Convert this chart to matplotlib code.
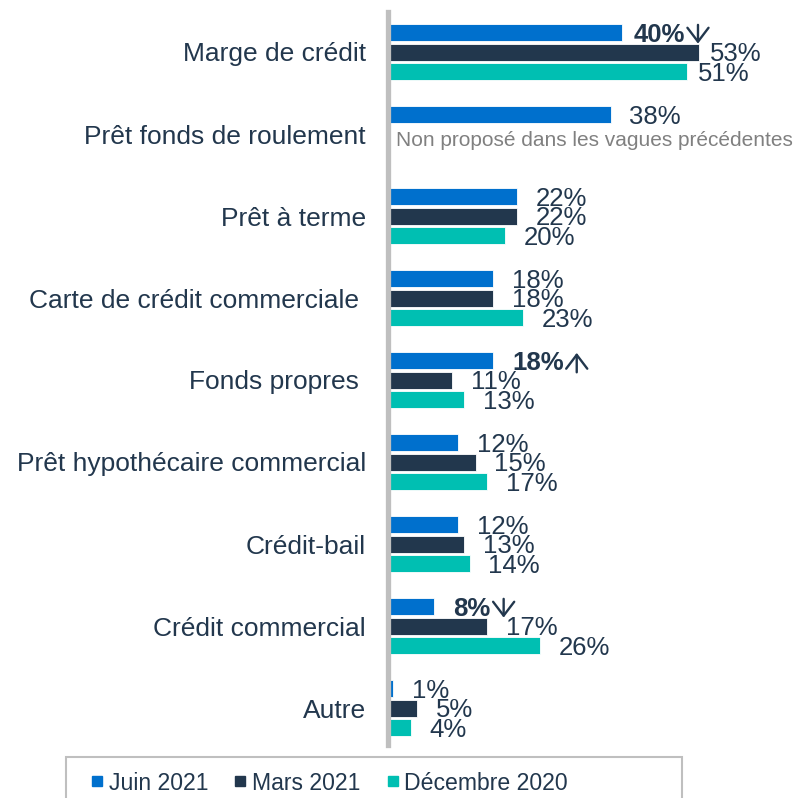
import matplotlib
matplotlib.use("Agg")
import matplotlib.pyplot as plt
from matplotlib.patches import Rectangle
from matplotlib.lines import Line2D
from matplotlib.text import OffsetFrom
import numpy as np

plt.rcParams['font.family'] = ['Liberation Sans', 'DejaVu Sans']

categories = ["Marge de crédit", "Prêt fonds de roulement", "Prêt à terme",
              "Carte de crédit commerciale ", "Fonds propres ",
              "Prêt hypothécaire commercial", "Crédit-bail",
              "Crédit commercial", "Autre"]
series_names = ["Juin 2021", "Mars 2021", "Décembre 2020"]
juin_2021 = [40, 38, 22, 18, 18, 12, 12, 8, 1]
mars_2021 = [53, None, 22, 18, 11, 15, 13, 17, 5]
dec_2020 = [51, None, 20, 23, 13, 17, 14, 26, 4]
# significance markers for Juin 2021 (None, 'up', 'down')
juin_sig = ['down', None, None, None, 'up', None, None, 'down', None]
note_text = "Non proposé dans les vagues précédentes"

colors = ["#0070CD", "#22374D", "#00BFB2"]
text_color = "#22374D"

W, H = 806, 798
fig = plt.figure(figsize=(W / 100, H / 100), dpi=100)
x0 = 387.5
px_per_pct = 5.87
ax = fig.add_axes([x0 / W, 1 - 745 / H, (W - x0) / W, 733 / H])

n = len(categories)
y = np.arange(n)
step = 19.5 / 82
bh = 17 / 82
offsets = [-step, 0, step]
series = [juin_2021, mars_2021, dec_2020]

arrow_props = dict(arrowstyle='->, head_length=0.5, head_width=0.38',
                   lw=1.7, color=text_color, shrinkA=0, shrinkB=0,
                   mutation_scale=20)

for s_idx, (vals, col) in enumerate(zip(series, colors)):
    for i, v in enumerate(vals):
        if v is None:
            continue
        yy = y[i] + offsets[s_idx]
        ax.barh(yy, v, height=bh, color=col, edgecolor='white', linewidth=0.6, zorder=2)
        sig = juin_sig[i] if s_idx == 0 else None
        pad = 8 if i == 0 else 13.5
        t = ax.annotate(f"{v}%", xy=(v, yy), xytext=(pad, -1.5), textcoords='offset points',
                        ha='left', va='center', fontsize=18.5, color=text_color,
                        fontweight='bold' if sig else 'normal', zorder=4)
        if sig:
            ref = OffsetFrom(t, (1, 0.5))
            top, bot = (7.0, -6.5) if sig == 'down' else (-7.0, 7.0)
            ax.annotate('', xy=(9.5, bot), xycoords=ref,
                        xytext=(9.5, top), textcoords=ref,
                        arrowprops=arrow_props, zorder=4)

# note for missing series
ax.text(1.5, 1 + offsets[1] + 0.08, note_text, ha='left', va='center',
        fontsize=15, color="#808080", zorder=4)

ax.set_xlim(0, (W - x0) / px_per_pct)
ax.set_ylim(n - 1 + 37 / 82, -40 / 82)
ax.set_yticks(y)
ax.set_yticklabels(categories)
ax.tick_params(axis='y', length=0, pad=15.5, labelsize=19, labelcolor=text_color)
ax.set_xticks([])
for sp in ['top', 'right', 'bottom']:
    ax.spines[sp].set_visible(False)
ax.spines['left'].set_color("#BFBFBF")
ax.spines['left'].set_linewidth(3.8)
ax.spines['left'].set_zorder(3)

# legend box
fig.add_artist(Rectangle((66 / W, 1 - 830 / H), (682 - 66) / W, (830 - 757) / H,
                         transform=fig.transFigure, facecolor='white',
                         edgecolor='#BFBFBF', linewidth=1.5))
handles = [Line2D([], [], marker='s', linestyle='none', markersize=7,
                  markerfacecolor=c, markeredgecolor=c) for c in colors]
leg = fig.legend(handles, series_names, loc='center', bbox_to_anchor=(329 / W, 1 - 783 / H),
                 ncol=3, frameon=False, fontsize=16.6, handlelength=0.6,
                 handletextpad=0.2, columnspacing=1.1, borderaxespad=0)
for txt in leg.get_texts():
    txt.set_color(text_color)

fig.savefig("out.png", dpi=100)
